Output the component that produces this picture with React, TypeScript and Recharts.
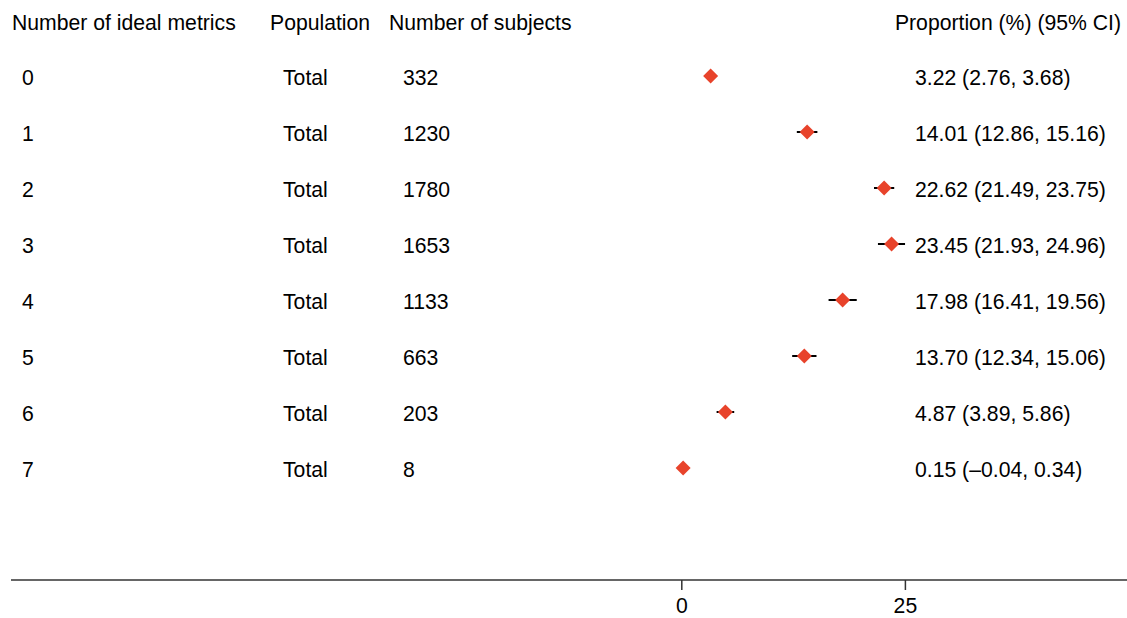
import React from 'react';
import { ComposedChart, Scatter, XAxis, YAxis, ErrorBar } from 'recharts';

const metrics = ['0', '1', '2', '3', '4', '5', '6', '7'];
const population = ['Total', 'Total', 'Total', 'Total', 'Total', 'Total', 'Total', 'Total'];
const subjects = [332, 1230, 1780, 1653, 1133, 663, 203, 8];
const estimates = [3.22, 14.01, 22.62, 23.45, 17.98, 13.7, 4.87, 0.15];
const lower = [2.76, 12.86, 21.49, 21.93, 16.41, 12.34, 3.89, -0.04];
const upper = [3.68, 15.16, 23.75, 24.96, 19.56, 15.06, 5.86, 0.34];
const headers = ['Number of ideal metrics', 'Population', 'Number of subjects', 'Proportion (%) (95% CI)'];
const xTicks = [0, 25];

const fmt = (v: number) => (v < 0 ? '\u2013' + Math.abs(v).toFixed(2) : v.toFixed(2));

const rows = metrics.map((m, i) => ({
  row: i,
  metric: m,
  pop: population[i],
  n: subjects[i],
  est: estimates[i],
  err: [estimates[i] - lower[i], upper[i] - estimates[i]],
  label: `${fmt(estimates[i])} (${fmt(lower[i])}, ${fmt(upper[i])})`,
}));

const headerRow = [{ row: -1, est: 0 }];

const FONT = 'Liberation Sans, Arial, sans-serif';
const FS = 21.2;
const RED = '#E8432B';

const RowShape = (props: any) => {
  const { cx, cy, payload } = props;
  const s = 7.5;
  const by = cy + 8.5;
  return (
    <g>
      <polygon points={`${cx},${cy - s} ${cx + s},${cy} ${cx},${cy + s} ${cx - s},${cy}`} fill={RED} />
      <text x={22} y={by} fontSize={FS} fontFamily={FONT} fill="#000">{payload.metric}</text>
      <text x={283} y={by} fontSize={FS} fontFamily={FONT} fill="#000">{payload.pop}</text>
      <text x={403} y={by} fontSize={FS} fontFamily={FONT} fill="#000">{payload.n}</text>
      <text x={915} y={by} fontSize={FS} fontFamily={FONT} fill="#000">{payload.label}</text>
    </g>
  );
};

const HeaderShape = (props: any) => {
  const { cy } = props;
  const by = cy + 9.7;
  return (
    <g>
      <text x={12} y={by} fontSize={FS} fontFamily={FONT} fill="#000">{headers[0]}</text>
      <text x={270} y={by} fontSize={FS} fontFamily={FONT} fill="#000">{headers[1]}</text>
      <text x={389} y={by} fontSize={FS} fontFamily={FONT} fill="#000">{headers[2]}</text>
      <text x={1121} y={by} fontSize={FS} fontFamily={FONT} fill="#000" textAnchor="end">{headers[3]}</text>
    </g>
  );
};

export default function App() {
  return (
    <div style={{ position: 'absolute', left: 0, top: 0, background: '#fff' }}>
      <ComposedChart width={1127} height={618} margin={{ top: 20, right: -2, bottom: 8, left: 11 }}>
        <XAxis
          type="number"
          dataKey="est"
          domain={[-75, 50]}
          ticks={xTicks}
          tickSize={10}
          tickMargin={8}
          height={30}
          stroke="#333"
          strokeWidth={1.5}
          tick={{ fill: '#000', fontSize: FS, fontFamily: FONT }}
          allowDataOverflow
        />
        <YAxis type="number" dataKey="row" domain={[-1, 9]} reversed hide />
        <Scatter data={headerRow} dataKey="row" shape={HeaderShape} isAnimationActive={false} />
        <Scatter data={rows} dataKey="row" shape={RowShape} isAnimationActive={false}>
          <ErrorBar dataKey="err" direction="x" width={0} stroke="#000" strokeWidth={2} />
        </Scatter>
      </ComposedChart>
    </div>
  );
}
